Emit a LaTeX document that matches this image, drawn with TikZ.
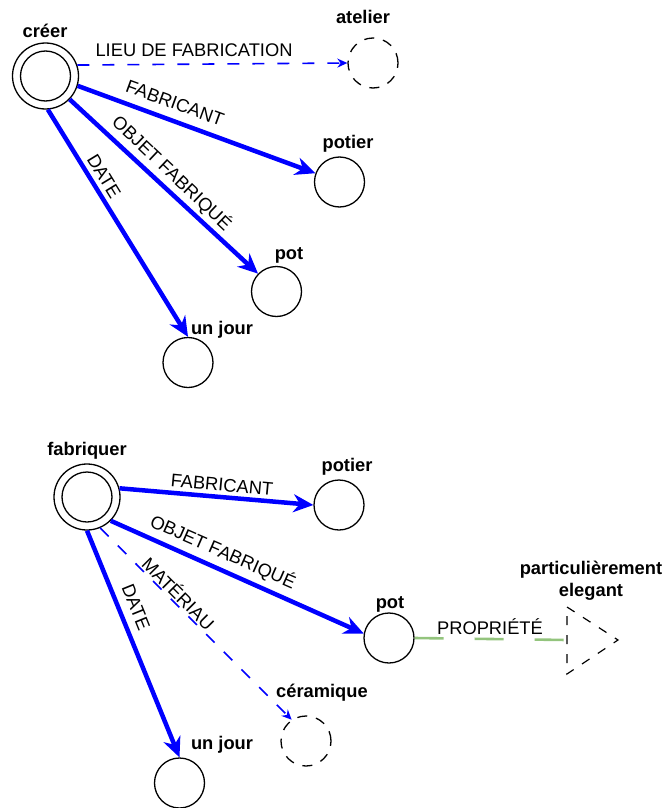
\documentclass[tikz,border=0pt]{standalone}
\usepackage{fontspec}
\setmainfont{Liberation Sans}
\usetikzlibrary{arrows.meta}
\definecolor{eblue}{RGB}{0,0,255}
\definecolor{egreen}{RGB}{147,196,125}
\begin{document}
\begin{tikzpicture}[x=1pt,y=-1pt,
  ent/.style={circle,draw,line width=1.3pt,minimum size=50pt,inner sep=0pt},
  dent/.style={ent,dash pattern=on 10pt off 9pt},
  outerc/.style={circle,draw,line width=1.3pt,minimum size=66pt,inner sep=0pt},
  innerc/.style={circle,draw,line width=1.3pt,minimum size=50pt,inner sep=0pt},
  nlab/.style={font=\fontsize{18.3}{22}\selectfont\bfseries, inner sep=0pt},
  elab/.style={font=\fontsize{18.3}{22}\selectfont, inner sep=0pt},
  rel/.style={draw=eblue,line width=4.5pt,-{Stealth[length=20pt,width=18pt]}},
  orel/.style={draw=eblue,line width=1.6pt,dash pattern=on 12pt off 13pt,-{Stealth[length=10pt,width=9pt]}},
  prop/.style={draw=egreen,line width=2.6pt,dash pattern=on 29pt off 31pt},
  trid/.style={draw,line width=1.2pt,dash pattern=on 9pt off 10pt},
]
\useasboundingbox (0,0) rectangle (663,808);

% ---------- top graph ----------
\node[outerc] (creer) at (45.5,76) {};
\node[innerc] (creerin) at (45.5,76) {};
\node[nlab] (creerlab) at (45,31) {créer};

\node[dent] (atelier) at (373,63) {};
\node[nlab] (atelierlab) at (363,17) {atelier};

\node[ent] (potier1) at (339.5,182) {};
\node[nlab] (potier1lab) at (348,144) {potier};

\node[ent] (pot1) at (276.5,291.5) {};
\node[nlab] (pot1lab) at (289,255) {pot};

\node[ent] (jour1) at (188,362.5) {};
\node[nlab] (jour1lab) at (222,330) {un jour};

\draw[orel] (creer.19) -- (atelier.west);
\draw[rel] (creer.-17.6) -- (potier1.160);
\draw[rel] (creer.-44) -- (pot1.136.5);
\draw[rel] (creer.-86) -- (jour1.north);

\node[elab] (l1) at (194,50) {LIEU DE FABRICATION};
\node[elab,rotate=-20] (l2) at (175,103) {FABRICANT};
\node[elab,rotate=-43.5] (l3) at (172,173) {OBJET FABRIQUÉ};
\node[elab,rotate=-58.6] (l4) at (104,176) {DATE};

% ---------- bottom graph ----------
\node[outerc] (fab) at (87,497) {};
\node[innerc] (fabin) at (87,497) {};
\node[nlab] (fablab) at (87,451) {fabriquer};

\node[ent] (potier2) at (339,505) {};
\node[nlab] (potier2lab) at (347,467) {potier};

\node[ent] (pot2) at (389,638) {};
\node[nlab] (pot2lab) at (390,604) {pot};

\node[dent] (ceram) at (306,741) {};
\node[nlab] (ceramlab) at (322,693) {céramique};

\node[ent] (jour2) at (179.5,783) {};
\node[nlab] (jour2lab) at (222,745) {un jour};

\coordinate (triA) at (567,607);
\coordinate (triB) at (618,640);
\coordinate (triC) at (567,674);
\coordinate (trileft) at (567,640);
\draw[trid] (triA) -- (triB) -- (triC) -- cycle;
\node[nlab,align=center] (elegantlab) at (591,581) {particulièrement\\elegant};

\draw[rel] (fab.15) -- (potier2.west);
\draw[rel] (fab.-45) -- (pot2.170);
\draw[orel] (fab.-67) -- (ceram.124);
\draw[rel] (fab.-90) -- (jour2.north);
\draw[prop] (pot2.east) -- (trileft);

\node[elab,rotate=-5.3] (m1) at (222,485) {FABRICANT};
\node[elab,rotate=-23.7] (m2) at (223,552) {OBJET FABRIQUÉ};
\node[elab,rotate=-45] (m3) at (179,593) {MATÉRIAU};
\node[elab,rotate=-68] (m4) at (136,607) {DATE};
\node[elab] (m5) at (490,627) {PROPRIÉTÉ};
\end{tikzpicture}
\end{document}
